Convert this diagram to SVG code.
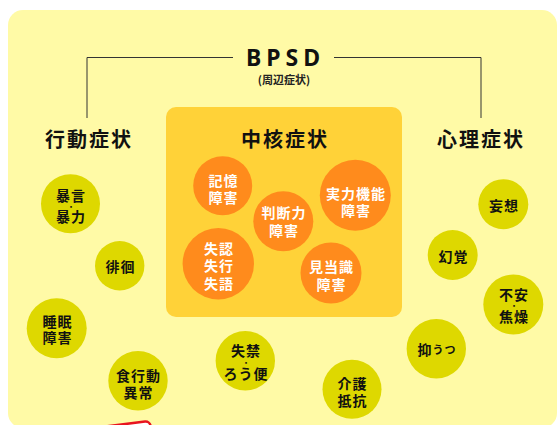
<svg xmlns="http://www.w3.org/2000/svg" width="557" height="425" viewBox="0 0 557 425">
<style>
text{font-family:"Noto Sans CJK JP","Noto Sans",sans-serif;text-anchor:middle;dominant-baseline:central;}
.bg{fill:#FFFAA6;}
.core{fill:#FFD238;}
.org circle{fill:#FF8B1C;}
.grn circle{fill:#DED800;}
.org text{fill:#FFFFFF;font-size:14px;font-weight:bold;letter-spacing:1px;}
.grn text{fill:#111111;font-size:14px;font-weight:bold;letter-spacing:1px;}
.dot{font-size:7px;letter-spacing:0;}
.head{fill:#111111;font-size:20px;font-weight:bold;letter-spacing:2px;}
.conn{fill:none;stroke:#333333;stroke-width:1;}
</style>
<rect class="bg" x="8" y="10" width="549" height="418" rx="15"/>
<rect x="95" y="421" width="55" height="30" rx="5" fill="#FFFFFF" stroke="#E8141E" stroke-width="2.5" transform="rotate(-7 150 421)"/>
<g id="connectors">
<polyline class="conn" points="87,118 87,57.5 233,57.5"/>
<polyline class="conn" points="334,57.5 481,57.5 481,118"/>
</g>
<g id="bpsd">
<text x="285.5" y="57" style="font-family:'Noto Sans','DejaVu Sans',sans-serif;font-size:23px;font-weight:bold;letter-spacing:5px;fill:#111">BPSD</text>
<text x="284" y="79" style="font-size:11px;font-weight:bold;fill:#222">(周辺症状)</text>
</g>
<g id="behavior-label"><text class="head" x="89" y="138">行動症状</text></g>
<g id="psych-label"><text class="head" x="481" y="138">心理症状</text></g>
<g id="core">
<rect class="core" x="166" y="107" width="236" height="210" rx="10"/>
<text class="head" x="285" y="138">中核症状</text>
</g>
<g id="n-memory" class="org"><circle cx="222.7" cy="185.7" r="29.5"/><text x="223.5" y="180">記憶<tspan x="223.5" dy="17">障害</tspan></text></g>
<g id="n-judgment" class="org"><circle cx="283.3" cy="221.3" r="30"/><text x="284" y="212">判断力<tspan x="284" dy="18">障害</tspan></text></g>
<g id="n-executive" class="org"><circle cx="355.3" cy="195.3" r="35.5"/><text x="356" y="193.3">実力機能<tspan x="356" dy="16.7">障害</tspan></text></g>
<g id="n-agnosia" class="org"><circle cx="218.3" cy="263.7" r="35.7"/><text x="219" y="247.5">失認<tspan x="219" dy="17.8">失行</tspan><tspan x="219" dy="17.2">失語</tspan></text></g>
<g id="n-orientation" class="org"><circle cx="331" cy="273" r="30.5"/><text x="331.5" y="266.3">見当識<tspan x="331.5" dy="17.7">障害</tspan></text></g>
<g id="n-violence" class="grn"><circle cx="70.5" cy="203.7" r="29.5"/><text x="71" y="195">暴言<tspan class="dot" x="71" dy="10.5">・</tspan><tspan x="71" dy="10.5">暴力</tspan></text></g>
<g id="n-wandering" class="grn"><circle cx="119.7" cy="265.7" r="24.7"/><text x="120.5" y="266">徘徊</text></g>
<g id="n-sleep" class="grn"><circle cx="56.7" cy="328.3" r="30"/><text x="57.5" y="321">睡眠<tspan x="57.5" dy="16">障害</tspan></text></g>
<g id="n-eating" class="grn"><circle cx="138" cy="380.7" r="29.7"/><text x="138.5" y="374.5">食行動<tspan x="138.5" dy="17">異常</tspan></text></g>
<g id="n-incontinence" class="grn"><circle cx="245.3" cy="360.7" r="29.7"/><text x="246" y="350">失禁<tspan class="dot" x="246" dy="11.5">・</tspan><tspan x="246" dy="11.5">ろう便</tspan></text></g>
<g id="n-resistance" class="grn"><circle cx="352" cy="389.3" r="29.5"/><text x="352.5" y="382.5">介護<tspan x="352.5" dy="17">抵抗</tspan></text></g>
<g id="n-delusion" class="grn"><circle cx="503.3" cy="204.2" r="25"/><text x="504" y="204.5">妄想</text></g>
<g id="n-hallucination" class="grn"><circle cx="452.7" cy="255" r="25"/><text x="453.5" y="255.5">幻覚</text></g>
<g id="n-anxiety" class="grn"><circle cx="513.3" cy="304.5" r="30"/><text x="514" y="294">不安<tspan class="dot" x="514" dy="11">・</tspan><tspan x="514" dy="11">焦燥</tspan></text></g>
<g id="n-depression" class="grn"><circle cx="436.3" cy="348.7" r="29.7"/><text x="437" y="349">抑<tspan style="font-size:11px">うつ</tspan></text></g>
</svg>
